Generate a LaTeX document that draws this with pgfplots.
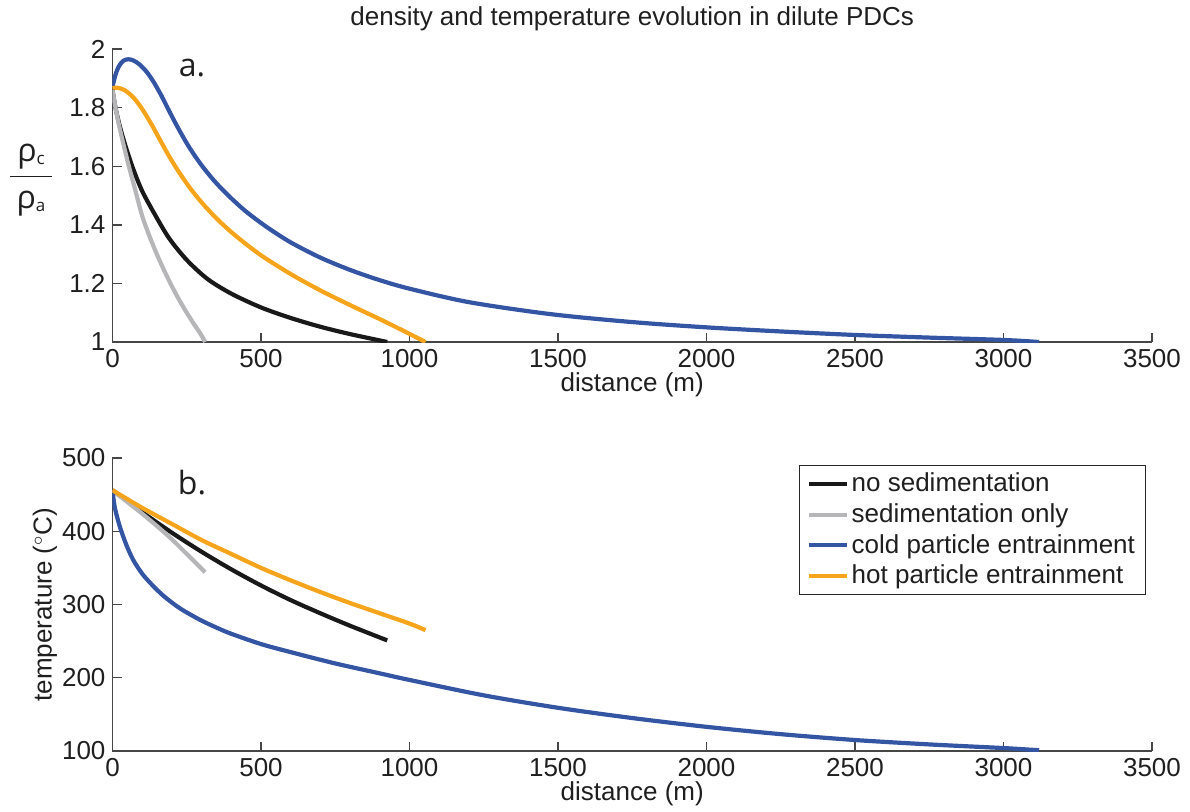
\documentclass[border=0pt]{standalone}
\usepackage{pgfplots}
\pgfplotsset{compat=1.18}
\usepackage{fontspec}
\setmainfont{Liberation Sans}
\newfontfamily\myriad{Open Sans}
\definecolor{cblue}{RGB}{52,84,164}
\definecolor{corange}{RGB}{246,164,28}
\definecolor{cgray}{RGB}{182,182,185}
\definecolor{cblack}{RGB}{25,25,25}
\definecolor{axgray}{RGB}{70,70,70}
\newcommand{\tfont}{\fontsize{13}{15}\selectfont}
\pgfplotsset{
  myaxis/.style={
    scale only axis, width=519.75pt, height=146.5pt,
    xmin=0, xmax=3500,
    axis x line*=bottom, axis y line*=left,
    axis line style={axgray, line width=0.7pt, -},
    tick style={axgray, line width=0.7pt},
    tick align=inside,
    major tick length=4.7pt,
    xtick={0,500,1000,1500,2000,2500,3000,3500},
    xticklabels={0,500,1000,1500,2000,2500,3000,3500},
    tick label style={font=\tfont, text=black!88},
    xlabel={distance (m)},
    label style={font=\tfont, text=black!88},
    xlabel style={at={(axis description cs:0.5,0)}, anchor=center, yshift=-21.5pt},
    every axis plot/.append style={line width=2.1pt, smooth},
  }
}
\begin{document}
\begin{tikzpicture}
\path[use as bounding box] (0,0) rectangle (595pt,405.5pt);
% ---------- panel a ----------
\begin{axis}[myaxis, at={(56.25pt,234.5pt)}, anchor=south west,
  ymin=1, ymax=2,
  ytick={1,1.2,1.4,1.6,1.8,2}, yticklabels={1,1.2,1.4,1.6,1.8,2},
  title={density and temperature evolution in dilute PDCs},
  title style={at={(axis description cs:0.5,1.062)}, anchor=center, font=\tfont, text=black!88},
  ylabel={{\myriad\fontsize{16}{18}\selectfont $\displaystyle\frac{\makebox[21pt]{ρ\raisebox{-1.8pt}{\fontsize{8.5}{9}\selectfont c}}}{\makebox[21pt]{ρ\raisebox{-1.8pt}{\fontsize{8.5}{9}\selectfont a}}}$}},
  ylabel style={at={(axis description cs:-0.0784,0.553)}, anchor=center, rotate=-90},
]
\addplot[cblue] coordinates {(0,1.871) (10,1.912) (22,1.942) (37,1.960) (53,1.965) (70,1.961) (90,1.948) (115,1.922) (140,1.885) (165,1.840) (190,1.790) (220,1.732) (255,1.670) (295,1.610) (340,1.553) (390,1.500) (450,1.445) (520,1.392) (600,1.340) (700,1.288) (800,1.246) (900,1.211) (1000,1.182) (1200,1.136) (1476,1.095) (1750,1.068) (2000,1.050) (2250,1.036) (2500,1.024) (2750,1.015) (3000,1.007) (3120,1.0)};
\addplot[corange] coordinates {(0,1.866) (15,1.868) (40,1.860) (70,1.835) (100,1.795) (130,1.745) (160,1.690) (190,1.635) (225,1.578) (265,1.520) (310,1.465) (360,1.412) (420,1.358) (500,1.296) (600,1.232) (700,1.176) (800,1.126) (900,1.078) (980,1.038) (1054,1.0)};
\addplot[cblack] coordinates {(0,1.860) (10,1.800) (25,1.735) (45,1.665) (70,1.590) (100,1.515) (140,1.440) (190,1.355) (250,1.280) (320,1.215) (400,1.165) (500,1.118) (600,1.082) (700,1.052) (800,1.027) (925,1.0)};
\addplot[cgray] coordinates {(0,1.860) (10,1.800) (22,1.740) (38,1.670) (55,1.600) (75,1.525) (100,1.430) (125,1.360) (150,1.298) (175,1.242) (200,1.190) (225,1.143) (250,1.100) (275,1.060) (295,1.030) (312,1.0)};
\node[font=\myriad\fontsize{16}{18}\selectfont, text=black!88] at (axis description cs:0.0765,0.935) {a.};
\end{axis}
% ---------- panel b ----------
\begin{axis}[myaxis, at={(56.25pt,30pt)}, anchor=south west,
  ymin=100, ymax=500,
  ytick={100,200,300,400,500}, yticklabels={100,200,300,400,500},
  ylabel={temperature (\textsuperscript{$\circ$}C)},
  ylabel style={at={(axis description cs:-0.065,0.5)}, anchor=center},
  legend style={at={(0.994,0.976)}, anchor=north east, draw=black!85, line width=0.6pt,
    font=\tfont, text=black!88, inner xsep=3.6pt, inner ysep=2.2pt, row sep=1.4pt,
    nodes={inner sep=1.5pt}},
  legend cell align=left,
  legend image code/.code={\draw[#1, line width=2pt] (0pt,0pt) -- (19pt,0pt);},
]
\addplot[cblack] coordinates {(0,456) (50,441) (100,426) (200,398) (300,372) (400,348) (500,326) (600,306) (700,288) (800,271) (925,251)};
\addlegendentry{no sedimentation}
\addplot[cgray] coordinates {(0,456) (50,440) (100,424) (150,407) (200,389) (250,369) (312,344)};
\addlegendentry{sedimentation only}
\addplot[cblue] coordinates {(0,456) (8,432) (25,406) (48,380) (71,360) (100,342) (127,329.5) (155,318) (183,308) (230,294) (295,279) (350,268.5) (400,260) (500,246) (600,235) (745,220) (900,206) (1000,197) (1250,176) (1500,159) (1750,145) (2000,133) (2250,123) (2500,115) (2750,109) (3000,104) (3120,101)};
\addlegendentry{cold particle entrainment}
\addplot[corange] coordinates {(0,456) (100,432) (200,410) (300,388) (400,369) (500,350) (600,333) (700,317) (800,302) (900,288) (1000,274) (1054,265)};
\addlegendentry{hot particle entrainment}
\node[font=\myriad\fontsize{16}{18}\selectfont, text=black!88] at (axis description cs:0.0765,0.915) {b.};
\end{axis}
\end{tikzpicture}
\end{document}
